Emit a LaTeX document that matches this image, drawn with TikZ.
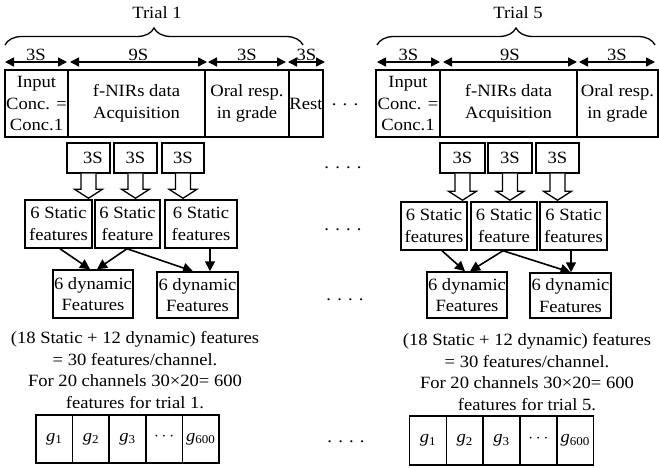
\documentclass[tikz,border=0pt]{standalone}
\usepackage{fontspec}
\setmainfont{Liberation Serif}[FakeStretch=1.08]
\usetikzlibrary{arrows.meta,calc,decorations.pathreplacing}
\newcommand\holarrow[2]{%
  \draw[hol] ($(#1.south)+(-7.5,0)$) -- ($(#1.south |- #2.north)+(-7.5,-10)$)
    -- ($(#1.south |- #2.north)+(-14,-10)$) -- ($(#1.south |- #2.north)+(0,-1)$)
    -- ($(#1.south |- #2.north)+(14,-10)$) -- ($(#1.south |- #2.north)+(7.5,-10)$)
    -- ($(#1.south)+(7.5,0)$);}
\begin{document}
\begin{tikzpicture}[x=1pt,y=-1pt,
  font=\fontsize{17.2}{21.5}\selectfont,
  bx/.style={draw, line width=1.5pt, inner sep=0pt, align=center},
  top/.style={bx, minimum height=67pt},
  tri/.style={bx, minimum width=43pt, minimum height=30pt},
  stat/.style={bx, minimum height=48pt},
  dyn/.style={bx, minimum width=80pt, minimum height=47pt},
  gb/.style={bx, minimum width=36.6pt, minimum height=48pt},
  dim/.style={line width=1.5pt, {Triangle[length=9pt,width=9pt]}-{Triangle[length=9pt,width=9pt]}},
  flow/.style={line width=1.6pt, -{Triangle[length=10pt,width=10pt]}},
  hol/.style={line width=1.3pt, fill=white, line join=miter},
  brc/.style={line width=1.3pt, decorate, decoration={brace, amplitude=17pt}},
  txt/.style={align=center, inner sep=0pt},
  dots/.style={inner sep=0pt}
]
\useasboundingbox (0,0) rectangle (659,468);

% ---------- Trial 1 ----------
\node[txt] (tr1) at (157,13) {Trial 1};
\coordinate (b1a) at (5,45);
\coordinate (b1b) at (303,45);
\draw[brc] (b1a) -- (b1b);

\node[top, minimum width=63pt] (in1) at (36.5,103.5) {Input\\Conc. =\\Conc.1};
\node[top, minimum width=137pt] (fn1) at (136.5,103.5) {f-NIRs data\\Acquisition};
\node[top, minimum width=84pt] (or1) at (247,103.5) {Oral resp.\\in grade};
\node[top, minimum width=34pt] (re1) at (306,103.5) {Rest};

\coordinate (a1) at (5,62);   \coordinate (a2) at (67,62);
\coordinate (a3) at (70,62);  \coordinate (a4) at (207,62);
\coordinate (a5) at (208,62); \coordinate (a6) at (286,62);
\coordinate (a7) at (288,62); \coordinate (a8) at (325,62);
\draw[dim] (a1) -- node[above=1pt, txt] {3S} (a2);
\draw[dim] (a3) -- node[above=1pt, txt] {9S} (a4);
\draw[dim] (a5) -- node[above=1pt, txt] {3S} (a6);
\draw[dim] (a7) -- node[above=1pt, txt] {3S} (a8);

\node[tri] (t11) at (88.5,158) {\hspace*{9pt}3S};
\node[tri] (t12) at (135.5,158) {3S};
\node[tri, minimum width=42pt] (t13) at (183,158) {3S};

\node[stat, minimum width=67pt] (s11) at (58.5,224) {6 Static\\features};
\node[stat, minimum width=65pt] (s12) at (127.5,224) {6 Static\\feature};
\node[stat, minimum width=72pt] (s13) at (201,224) {6 Static\\features};

\holarrow{t11}{s11}
\holarrow{t12}{s12}
\holarrow{t13}{s13}

\node[dyn, minimum height=48pt] (d11) at (93,294) {6 dynamic\\Features};
\node[dyn, minimum width=81pt, minimum height=46pt] (d12) at (197.5,295) {6 dynamic\\Features};

\draw[flow] ($(s11.south)+(1.5,0)$) -- ($(d11.north)+(-3,0)$);
\draw[flow] ($(s12.south)+(-0.5,0)$) -- ($(d11.north)+(4,0)$);
\draw[flow] ($(s12.south)+(-0.5,0)$) -- ($(d12.north)+(-4.5,0)$);
\draw[flow] ($(s13.south)+(9,0)$) -- ($(d12.north)+(12.5,0)$);

\node[txt] (sum1) at (135,370) {(18 Static + 12 dynamic) features\\= 30 features/channel.\\For 20 channels 30×20= 600\\features for trial 1.};

\node[gb] (g11) at (54.3,439) {{\itshape g}\textsubscript{1}};
\node[gb] (g12) at (90.9,439) {{\itshape g}\textsubscript{2}};
\node[gb] (g13) at (127.5,439) {{\itshape g}\textsubscript{3}};
\node[gb] (g14) at (164.1,439) {\raisebox{4pt}{$\cdots$}};
\node[gb] (g15) at (200.7,439) {{\itshape g}\textsubscript{600}};

% ---------- Trial 5 ----------
\node[txt] (tr5) at (518,13) {Trial 5};
\coordinate (b5a) at (377,45);
\coordinate (b5b) at (655,45);
\draw[brc] (b5a) -- (b5b);

\node[top, minimum width=64pt] (in5) at (408,103.5) {Input\\Conc. =\\Conc.1};
\node[top, minimum width=137pt] (fn5) at (508.5,103.5) {f-NIRs data\\Acquisition};
\node[top, minimum width=81pt] (or5) at (617.5,103.5) {Oral resp.\\in grade};

\coordinate (c1) at (377,62); \coordinate (c2) at (440,62);
\coordinate (c3) at (443,62); \coordinate (c4) at (577,62);
\coordinate (c5) at (579,62); \coordinate (c6) at (655,62);
\draw[dim] (c1) -- node[above=1pt, txt] {3S} (c2);
\draw[dim] (c3) -- node[above=1pt, txt] {9S} (c4);
\draw[dim] (c5) -- node[above=1pt, txt] {3S} (c6);

\node[tri, minimum width=45pt] (t51) at (462.5,158) {3S};
\node[tri, minimum width=44pt] (t52) at (510,158) {3S};
\node[tri] (t53) at (557.5,158) {3S};

\node[stat, minimum width=66pt] (s51) at (434,226) {6 Static\\features};
\node[stat, minimum width=66pt] (s52) at (504,226) {6 Static\\feature};
\node[stat, minimum width=67pt] (s53) at (573.5,226) {6 Static\\features};

\holarrow{t51}{s51}
\holarrow{t52}{s52}
\holarrow{t53}{s53}

\node[dyn, minimum height=46pt] (d51) at (467,295) {6 dynamic\\Features};
\node[dyn, minimum width=81pt, minimum height=45pt] (d52) at (570.5,295.5) {6 dynamic\\Features};

\draw[flow] ($(s51.south)+(8,0)$) -- ($(d51.north)+(-2,0)$);
\draw[flow] ($(s52.south)+(-1,0)$) -- ($(d51.north)+(3,0)$);
\draw[flow] ($(s52.south)+(-1,0)$) -- ($(d52.north)+(0,0)$);
\draw[flow] ($(s53.south)+(-2.5,0)$) -- ($(s53.south |- d52.north)+(-2.5,0)$);

\node[txt] (sum5) at (527,372) {(18 Static + 12 dynamic) features\\= 30 features/channel.\\For 20 channels 30×20= 600\\features for trial 5.};

\node[gb, minimum height=49pt] (g51) at (428,440.5) {{\itshape g}\textsubscript{1}};
\node[gb, minimum height=49pt] (g52) at (464.8,440.5) {{\itshape g}\textsubscript{2}};
\node[gb, minimum height=49pt] (g53) at (501.6,440.5) {{\itshape g}\textsubscript{3}};
\node[gb, minimum height=49pt] (g54) at (538.4,440.5) {\raisebox{4pt}{$\cdots$}};
\node[gb, minimum height=49pt] (g55) at (575.2,440.5) {{\itshape g}\textsubscript{600}};

% ---------- dots ----------
\node[dots] (e0) at (345,105) {. . .};
\node[dots] (e1) at (343,168) {. . . .};
\node[dots] (e2) at (343,230) {. . . .};
\node[dots] (e3) at (345,300) {. . . .};
\node[dots] (e4) at (346,442) {. . . .};
\end{tikzpicture}
\end{document}
